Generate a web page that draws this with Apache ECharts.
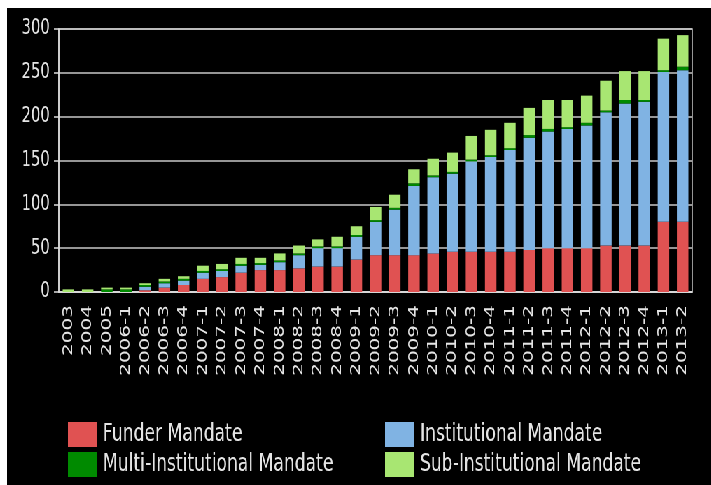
<!DOCTYPE html>
<html>
<head>
<meta charset="utf-8">
<script src="https://cdn.jsdelivr.net/npm/echarts@6/dist/echarts.min.js"></script>
<style>
  html, body { margin: 0; padding: 0; background: #ffffff; width: 711px; height: 485px; overflow: hidden; }
  #wrap { position: absolute; left: 7px; top: 8px; width: 1006px; height: 477px; background: #000000;
          transform: scaleX(0.7); transform-origin: 0 0; }
  #chart { width: 1006px; height: 477px; }
</style>
</head>
<body>
<div id="wrap"><div id="chart"></div></div>
<script>
const categories = ["2003","2004","2005","2006-1","2006-2","2006-3","2006-4","2007-1","2007-2","2007-3","2007-4",
  "2008-1","2008-2","2008-3","2008-4","2009-1","2009-2","2009-3","2009-4","2010-1","2010-2","2010-3","2010-4",
  "2011-1","2011-2","2011-3","2011-4","2012-1","2012-2","2012-3","2012-4","2013-1","2013-2"];
const funderMandate =        [0,0,0,0,2,5,8,15,17,22,25,25,27,29,29,37,42,42,42,44,46,46,46,46,48,50,50,50,53,53,53,80,80];
const institutionalMandate = [0,0,0,0,4,5,5,7,7,8,6,9,15,21,21,26,38,52,79,87,89,103,108,116,128,133,136,140,152,162,164,171,173];
const multiInstitutional =   [0,0,3,3,2,2,2,2,2,2,2,2,2,2,2,2,2,2,3,2,2,2,2,2,3,3,2,3,2,4,2,2,4];
const subInstitutional =     [3,3,2,2,2,3,3,6,6,7,6,8,9,8,11,10,15,15,16,19,22,27,29,29,31,33,31,31,34,33,33,36,36];
const yTicks = [0, 50, 100, 150, 200, 250, 300];

const textColor = '#e4e4e4';
const font = 'DejaVu Sans';
const chart = echarts.init(document.getElementById('chart'), null, { renderer: 'canvas' });

function bar(name, data, color) {
  return { name, type: 'bar', stack: 'total', data, barWidth: '60%',
           itemStyle: { color }, emphasis: { disabled: true } };
}
const legendText = { color: textColor, fontSize: 24.5, lineHeight: 25, fontFamily: font, padding: [0, 0, 0, 4] };
function legendItem(name, left, top) {
  return { data: [name], left, top, padding: 0, itemWidth: 41, itemHeight: 25, itemGap: 9,
           icon: 'rect', textStyle: legendText, selectedMode: false };
}
chart.setOption({
  backgroundColor: '#000000',
  animation: false,
  grid: { left: 74, right: 27, top: 21, bottom: 193, show: true, borderColor: '#c8c8c8', borderWidth: 1.5 },
  legend: [
    legendItem('Funder Mandate', 87, 414),
    legendItem('Multi-Institutional Mandate', 87, 444),
    legendItem('Institutional Mandate', 540, 414),
    legendItem('Sub-Institutional Mandate', 540, 444)
  ],
  xAxis: {
    type: 'category', data: categories,
    axisLine: { lineStyle: { color: '#e0e0e0', width: 1.5 } },
    axisTick: { alignWithLabel: true, length: 6, lineStyle: { color: '#e0e0e0', width: 1.5 } },
    axisLabel: { rotate: 90, interval: 0, margin: 13, color: textColor, fontSize: 20, fontFamily: font }
  },
  yAxis: {
    type: 'value', min: yTicks[0], max: yTicks[yTicks.length - 1], interval: 50,
    axisLine: { show: true, lineStyle: { color: '#e0e0e0', width: 1.5 } },
    axisTick: { show: true, length: 7, lineStyle: { color: '#e0e0e0', width: 1.5 } },
    axisLabel: { margin: 13, color: textColor, fontSize: 21, fontFamily: font },
    splitLine: { lineStyle: { color: '#c8c8c8', width: 1.5 } }
  },
  series: [
    bar('Funder Mandate', funderMandate, '#e05252'),
    bar('Institutional Mandate', institutionalMandate, '#80b3e3'),
    bar('Multi-Institutional Mandate', multiInstitutional, '#008a00'),
    bar('Sub-Institutional Mandate', subInstitutional, '#a8e672')
  ]
});
</script>
</body>
</html>
